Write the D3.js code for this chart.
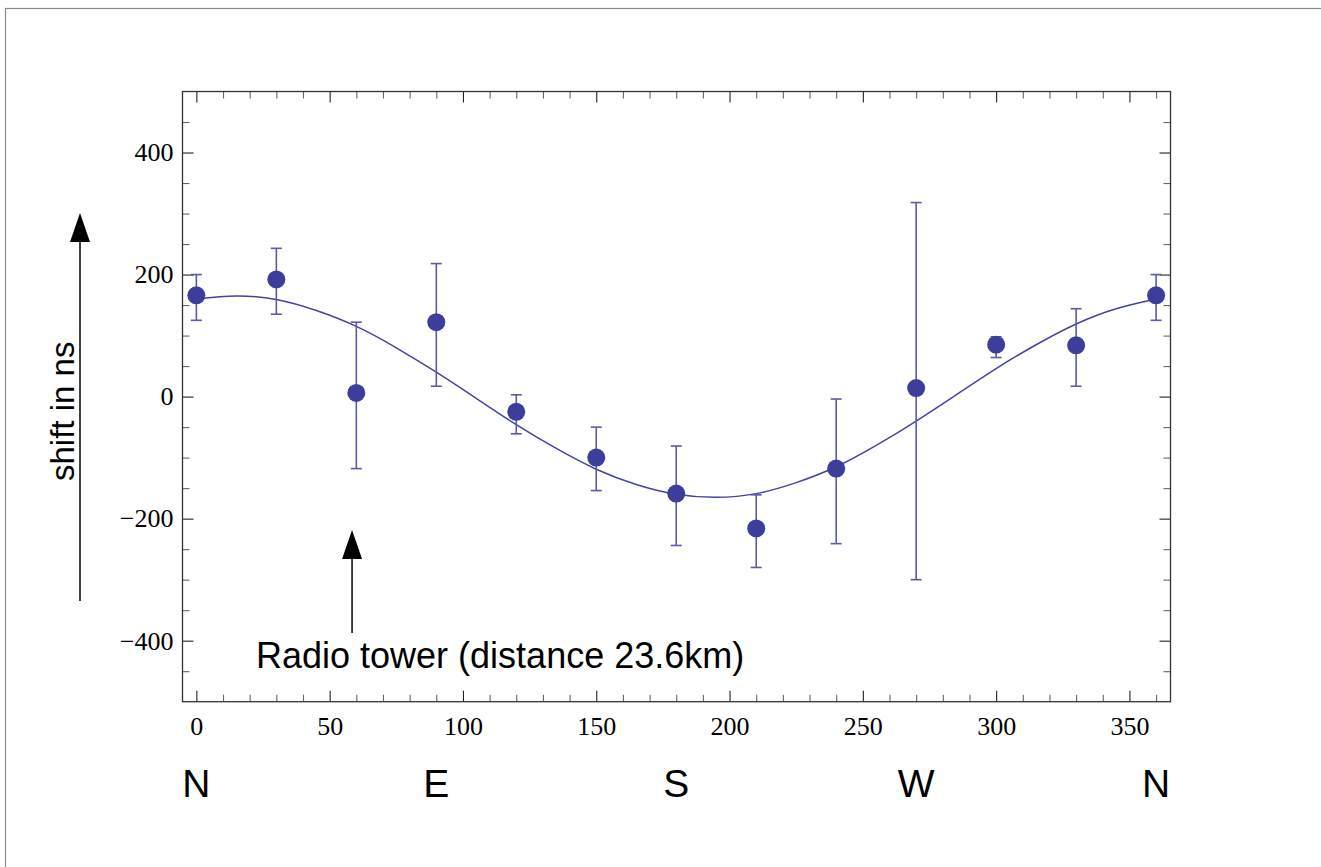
<!DOCTYPE html>
<html>
<head>
<meta charset="utf-8">
<script src="https://cdn.jsdelivr.net/npm/d3@7"></script>
<style>
  html, body { margin: 0; padding: 0; background: #fff; }
  svg { display: block; }
</style>
</head>
<body>
<div id="chart"></div>
<script>
// measured values, direction in degrees (0 = N)
const angles = [0, 30, 60, 90, 120, 150, 180, 210, 240, 270, 300, 330, 360];
const shift = [166, 192, 6, 122, -25, -100, -159, -216, -118, 14, 85, 84, 166];
const errLow = [125, 135, -118, 17, -61, -154, -244, -280, -241, -300, 64, 17, 125];
const errHigh = [200, 243, 122, 218, 3, -50, -81, -161, -4, 318, 98, 144, 200];

// fitted curve, every 15 degrees
const fitAngles = [0, 15, 30, 45, 60, 75, 90, 105, 120, 135, 150, 165, 180, 195, 210, 225, 240, 255, 270, 285, 300, 315, 330, 345, 360];
const fitShift = [160, 165, 159, 141, 115, 80, 40, -3, -46, -85, -119, -144, -160, -165, -159, -141, -115, -80, -40, 3, 46, 85, 119, 144, 160];

const xMajor = [0, 50, 100, 150, 200, 250, 300, 350];
const yMajor = [-400, -200, 0, 200, 400];
const compass = ["N", "E", "S", "W", "N"];
const compassAt = [0, 90, 180, 270, 360];
const towerAngle = 58.4;

const W = 1321, H = 867;
const m = { left: 182.5, right: 1170.5, top: 91.5, bottom: 701.7 };

const svg = d3.select("#chart").append("svg").attr("width", W).attr("height", H);

// outer frame of the figure
svg.append("rect").attr("x", 5.5).attr("y", 8.5).attr("width", 1400).attr("height", 1000)
  .attr("fill", "none").attr("stroke", "#8a8a8a").attr("stroke-width", 1.2);

const x = d3.scaleLinear().domain([-5.2, 365.4]).range([m.left, m.right]);
const y = d3.scaleLinear().domain([-500, 500]).range([m.bottom, m.top]);

const xMinor = d3.range(0, 361, 10).filter(v => v % 50 !== 0);
const yMinor = d3.range(-450, 451, 50).filter(v => v % 200 !== 0);

const serif = "Liberation Serif, Times New Roman, serif";
const sans = "Liberation Sans, Arial, Helvetica, sans-serif";

function styleAxis(g, color) {
  g.select(".domain").remove();
  g.selectAll(".tick line").attr("stroke", color).attr("stroke-width", 1.1);
}

// bottom axis
svg.append("g").attr("transform", `translate(0,${m.bottom})`)
  .call(d3.axisBottom(x).tickValues(xMinor).tickSize(-7).tickFormat(""))
  .call(g => styleAxis(g, "#666"));
svg.append("g").attr("transform", `translate(0,${m.bottom})`)
  .call(d3.axisBottom(x).tickValues(xMajor).tickSize(-11).tickPadding(15))
  .call(g => styleAxis(g, "#222"))
  .call(g => g.selectAll("text").attr("font-family", serif)
    .attr("font-size", 26).attr("fill", "#000"));

// top axis
svg.append("g").attr("transform", `translate(0,${m.top})`)
  .call(d3.axisTop(x).tickValues(xMinor).tickSize(-7).tickFormat(""))
  .call(g => styleAxis(g, "#666"));
svg.append("g").attr("transform", `translate(0,${m.top})`)
  .call(d3.axisTop(x).tickValues(xMajor).tickSize(-11).tickFormat(""))
  .call(g => styleAxis(g, "#222"));

// left axis
svg.append("g").attr("transform", `translate(${m.left},0)`)
  .call(d3.axisLeft(y).tickValues(yMinor).tickSize(-7).tickFormat(""))
  .call(g => styleAxis(g, "#666"));
svg.append("g").attr("transform", `translate(${m.left},0)`)
  .call(d3.axisLeft(y).tickValues(yMajor).tickSize(-11).tickPadding(9)
    .tickFormat(d => d < 0 ? "\u2212" + Math.abs(d) : d))
  .call(g => styleAxis(g, "#222"))
  .call(g => g.selectAll("text").attr("font-family", serif)
    .attr("font-size", 26).attr("fill", "#000"));

// right axis
svg.append("g").attr("transform", `translate(${m.right},0)`)
  .call(d3.axisRight(y).tickValues(yMinor).tickSize(-7).tickFormat(""))
  .call(g => styleAxis(g, "#666"));
svg.append("g").attr("transform", `translate(${m.right},0)`)
  .call(d3.axisRight(y).tickValues(yMajor).tickSize(-11).tickFormat(""))
  .call(g => styleAxis(g, "#222"));

// plot frame
svg.append("rect").attr("x", m.left).attr("y", m.top)
  .attr("width", m.right - m.left).attr("height", m.bottom - m.top)
  .attr("fill", "none").attr("stroke", "#333").attr("stroke-width", 1.3);

// fit curve
const fit = fitAngles.map((a, i) => [a, fitShift[i]]);
svg.append("path").datum(fit)
  .attr("fill", "none").attr("stroke", "#4343a3").attr("stroke-width", 1.5)
  .attr("d", d3.line().x(d => x(d[0])).y(d => y(d[1])).curve(d3.curveNatural));

// error bars
const pts = angles.map((a, i) => ({ a: a, v: shift[i], lo: errLow[i], hi: errHigh[i] }));
const eb = svg.append("g").attr("stroke", "#5a5aad").attr("stroke-width", 1.6);
eb.selectAll("line.bar").data(pts).enter().append("line").attr("class", "bar")
  .attr("x1", d => x(d.a)).attr("x2", d => x(d.a))
  .attr("y1", d => y(d.lo)).attr("y2", d => y(d.hi));
eb.selectAll("line.capHi").data(pts).enter().append("line").attr("class", "capHi")
  .attr("x1", d => x(d.a) - 5.5).attr("x2", d => x(d.a) + 5.5)
  .attr("y1", d => y(d.hi)).attr("y2", d => y(d.hi));
eb.selectAll("line.capLo").data(pts).enter().append("line").attr("class", "capLo")
  .attr("x1", d => x(d.a) - 5.5).attr("x2", d => x(d.a) + 5.5)
  .attr("y1", d => y(d.lo)).attr("y2", d => y(d.lo));

// points
svg.append("g").selectAll("circle").data(pts).enter().append("circle")
  .attr("cx", d => x(d.a)).attr("cy", d => y(d.v)).attr("r", 9)
  .attr("fill", "#3d3d9b");

// arrows
function arrow(x0, yBase, yTip) {
  svg.append("line").attr("x1", x0).attr("x2", x0).attr("y1", yBase).attr("y2", yTip + 20)
    .attr("stroke", "#000").attr("stroke-width", 1.5);
  svg.append("path")
    .attr("d", `M${x0},${yTip} L${x0 - 10},${yTip + 29} L${x0 + 10},${yTip + 29} Z`)
    .attr("fill", "#000");
}
arrow(80, 601, 213);
arrow(x(towerAngle), 633, 530);

svg.append("text")
  .attr("transform", "translate(74,481) rotate(-90)")
  .attr("font-family", sans).attr("font-size", 33).attr("fill", "#000")
  .text("shift in ns");

svg.append("text").attr("x", 256).attr("y", 668)
  .attr("font-family", sans).attr("font-size", 36).attr("fill", "#000")
  .text("Radio tower (distance 23.6km)");

svg.append("g").selectAll("text").data(compass).enter().append("text")
  .attr("x", (d, i) => x(compassAt[i])).attr("y", 797)
  .attr("text-anchor", "middle")
  .attr("font-family", sans).attr("font-size", 39).attr("fill", "#000")
  .text(d => d);
</script>
</body>
</html>
